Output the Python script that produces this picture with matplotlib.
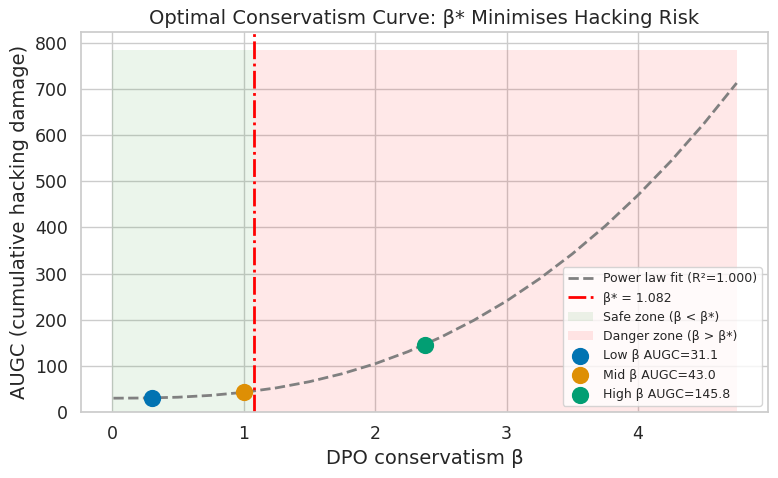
import numpy as np
import matplotlib
matplotlib.use("Agg")
import matplotlib.pyplot as plt
import seaborn as sns

# values
fit_beta = [0.01, 0.25, 0.5, 0.75, 1.0, 1.25, 1.5, 1.75, 2.0, 2.25, 2.5, 2.75,
            3.0, 3.25, 3.5, 3.75, 4.0, 4.25, 4.5, 4.75]
fit_augc = [30.0, 30.4, 32.1, 36.1, 42.7, 52.4, 65.7, 83.0, 104.6, 130.8, 162.1,
            198.6, 240.6, 288.6, 342.6, 402.9, 470.0, 543.6, 624.6, 712.8]
beta_star = 1.082
r2 = 1.000
point_labels = ["Low β", "Mid β", "High β"]
point_beta = [0.3, 1.0, 2.38]
point_augc = [31.1, 43.0, 145.8]

sns.set_theme(style="whitegrid")
colors = sns.color_palette("colorblind", 3)

fig, ax = plt.subplots(figsize=(7.78, 4.78), dpi=100)
fig.subplots_adjust(left=0.104, right=0.987, top=0.933, bottom=0.138)

ax.plot(fit_beta, fit_augc, "--", color="gray", linewidth=2,
        label=f"Power law fit (R²={r2:.3f})")
ax.axvline(beta_star, color="red", linestyle="-.", linewidth=2,
           label=f"β* = {beta_star:.3f}")
top = max(fit_augc) * 1.1
ax.fill_between([0, beta_star], 0, top, color="green", alpha=0.08,
                linewidth=0, label="Safe zone (β < β*)")
ax.fill_between([beta_star, max(fit_beta)], 0, top, color="red", alpha=0.09,
                linewidth=0, label="Danger zone (β > β*)")
for i in range(len(point_beta)):
    ax.scatter(point_beta[i], point_augc[i], s=130, color=colors[i], zorder=5,
               label=f"{point_labels[i]} AUGC={point_augc[i]:.1f}")

ax.set_ylim(bottom=0)
ax.set_xlabel("DPO conservatism β", fontsize=14)
ax.set_ylabel("AUGC (cumulative hacking damage)", fontsize=14)
ax.set_title("Optimal Conservatism Curve: β* Minimises Hacking Risk", fontsize=14)
ax.tick_params(labelsize=12.5)
for s in ax.spines.values():
    s.set_edgecolor("#cccccc")
ax.legend(fontsize=9, loc="lower right")

plt.savefig("out.png")
